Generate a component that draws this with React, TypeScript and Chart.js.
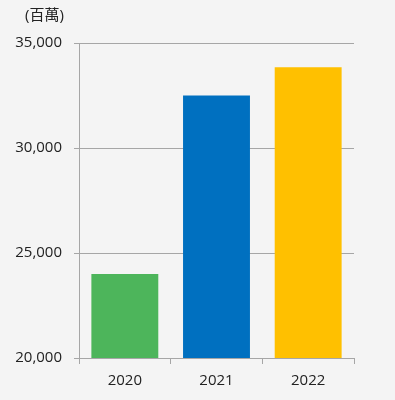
import React, { useEffect, useRef } from "react";
import { Chart, registerables } from "chart.js";

Chart.register(...registerables);

const categories = ["2020", "2021", "2022"];
const values = [24000, 32500, 33850];
const barColors = ["#4db55b", "#0070c0", "#ffc000"];
const yTicks = [20000, 25000, 30000, 35000];
const unitLabel = "(百萬)";

const FONT = "'Open Sans', 'Noto Sans CJK TC', sans-serif";

export default function App() {
  const ref = useRef<HTMLCanvasElement | null>(null);
  useEffect(() => {
    if (!ref.current) return;
    const unitPlugin = {
      id: "unitLabel",
      afterDraw(chart: any) {
        const { ctx, chartArea } = chart;
        ctx.save();
        ctx.fillStyle = "#222";
        ctx.font = `15px ${FONT}`;
        ctx.textAlign = "left";
        ctx.textBaseline = "middle";
        ctx.fillText(unitLabel, chartArea.left - 54, chartArea.top - 27);
        ctx.restore();
      },
    };
    const chart = new Chart(ref.current, {
      type: "bar",
      data: {
        labels: categories,
        datasets: [
          {
            data: values,
            backgroundColor: barColors,
            borderWidth: 0,
            barPercentage: 0.73,
            categoryPercentage: 1,
          },
        ],
      },
      options: {
        animation: false,
        responsive: false,
        maintainAspectRatio: false,
        layout: { padding: { top: 43, right: 41, bottom: 0, left: 0 } },
        plugins: { legend: { display: false }, tooltip: { enabled: false } },
        scales: {
          x: {
            offset: true,
            grid: {
              offset: true,
              drawOnChartArea: false,
              drawTicks: true,
              tickLength: 6,
              color: "#a6a6a6",
            },
            border: { display: false },
            ticks: { color: "#222", font: { family: FONT, size: 15 }, padding: 8 },
            afterFit(scale: any) {
              scale.height = 42;
            },
          },
          y: {
            min: 20000,
            max: 35000,
            afterBuildTicks(scale: any) {
              scale.ticks = yTicks.map((v) => ({ value: v }));
            },
            grid: { color: "#a6a6a6", tickLength: 5, lineWidth: 1 },
            border: { display: true, color: "#a6a6a6" },
            ticks: {
              color: "#222",
              font: { family: FONT, size: 15 },
              padding: 12,
              callback: (v: any) => Number(v).toLocaleString("en-US"),
            },
            afterFit(scale: any) {
              scale.width = 79;
            },
          },
        },
      },
      plugins: [unitPlugin],
    });
    return () => chart.destroy();
  }, []);
  return (
    <div
      style={{
        position: "fixed",
        left: 0,
        top: 0,
        width: 395,
        height: 400,
        background: "#f4f4f4",
      }}
    >
      <canvas ref={ref} width={395} height={400} style={{ width: 395, height: 400 }} />
    </div>
  );
}
